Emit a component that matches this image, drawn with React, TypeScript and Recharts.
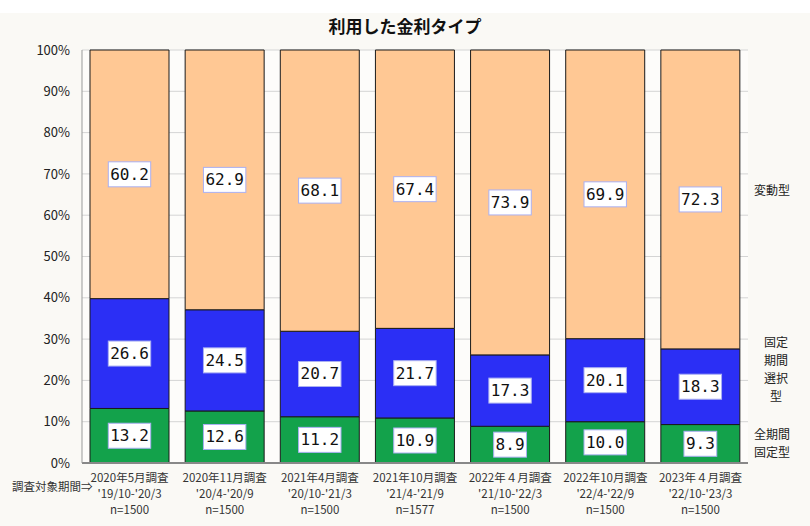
import { Bar, BarChart, CartesianGrid, LabelList, XAxis, YAxis } from 'recharts';

// survey rounds (x-axis, three lines each)
const surveys = [
  '2020年5月調査',
  '2020年11月調査',
  '2021年4月調査',
  '2021年10月調査',
  '2022年４月調査',
  '2022年10月調査',
  '2023年４月調査',
];
const periods = [
  "'19/10-'20/3",
  "'20/4-'20/9",
  "'20/10-'21/3",
  "'21/4-'21/9",
  "'21/10-'22/3",
  "'22/4-'22/9",
  "'22/10-'23/3",
];
const sampleSizes = [1500, 1500, 1500, 1577, 1500, 1500, 1500];

// shares (%) by rate type
const fullFixed = [13.2, 12.6, 11.2, 10.9, 8.9, 10.0, 9.3];
const periodFixed = [26.6, 24.5, 20.7, 21.7, 17.3, 20.1, 18.3];
const variable = [60.2, 62.9, 68.1, 67.4, 73.9, 69.9, 72.3];

const yTicks = [0, 0.1, 0.2, 0.3, 0.4, 0.5, 0.6, 0.7, 0.8, 0.9, 1];

const chartData = surveys.map((s, i) => ({
  survey: s,
  period: periods[i],
  n: sampleSizes[i],
  fullFixed: fullFixed[i],
  periodFixed: periodFixed[i],
  variable: variable[i],
}));

const FONT = '"Noto Sans CJK JP", "Noto Sans", sans-serif';

/**
 * White boxed value label in the middle of a segment.
 */
function ValueLabel(props: any) {
  const { x, y, width, height, value } = props;
  const text = Number(value).toFixed(1);
  const w = text.length * 9.6 + 4;
  const h = 25;
  const cx = x + width / 2;
  const cy = y + height / 2;
  return (
    <g>
      <rect x={cx - w / 2} y={cy - h / 2} width={w} height={h} fill="#ffffff" stroke="#aab0f2" strokeWidth={1} />
      <text
        x={cx}
        y={cy + 1}
        textAnchor="middle"
        dominantBaseline="middle"
        fontFamily='"DejaVu Sans Mono", monospace'
        fontSize={16}
        fill="#111"
      >
        {text}
      </text>
    </g>
  );
}

/**
 * Three-line category tick: survey / period / sample size.
 */
function SurveyTick(props: any) {
  const { x, y, payload, index } = props;
  const row = chartData[index] ?? chartData.find((d) => d.survey === payload.value);
  return (
    <g fontFamily={FONT} fontSize={11.5} fill="#333">
      <text x={x} y={y + 11} textAnchor="middle">{payload.value}</text>
      <text x={x} y={y + 27} textAnchor="middle">{row?.period}</text>
      <text x={x} y={y + 43} textAnchor="middle">n={row?.n}</text>
    </g>
  );
}

export default function App() {
  return (
    <div style={{ position: 'absolute', left: 0, top: 0, width: 810, height: 526, background: '#ffffff' }}>
      <div style={{ position: 'absolute', left: 0, top: 13, width: 810, height: 513, background: '#faf9f5' }} />
      <div
        style={{
          position: 'absolute',
          left: 0,
          top: 13,
          width: 810,
          textAlign: 'center',
          fontFamily: FONT,
          fontWeight: 700,
          fontSize: 17,
          color: '#111',
        }}
      >
        利用した金利タイプ
      </div>
      <div style={{ position: 'absolute', left: 0, top: 0 }}>
        <BarChart
          width={810}
          height={526}
          data={chartData}
          stackOffset="expand"
          margin={{ top: 50, right: 62, bottom: 13, left: 22 }}
          barCategoryGap={8}
        >
          <CartesianGrid horizontal vertical={false} stroke="#d4d4d4" fill="#fdfcfa" />
          <XAxis
            dataKey="survey"
            height={50}
            interval={0}
            tick={<SurveyTick />}
            tickLine={false}
            axisLine={{ stroke: '#888', strokeWidth: 2 }}
          />
          <YAxis
            width={60}
            domain={[0, 1]}
            ticks={yTicks}
            tickFormatter={(v: number) => `${Math.round(v * 100)}%`}
            tickLine={false}
            tickSize={0}
            tickMargin={12}
            axisLine={{ stroke: '#999' }}
            tick={{ fontFamily: FONT, fontSize: 13, fill: '#222' }}
          />
          <YAxis
            yAxisId="right"
            orientation="right"
            width={0}
            domain={[0, 1]}
            tick={false}
            tickLine={false}
            axisLine={{ stroke: '#999' }}
          />
          <Bar dataKey="fullFixed" stackId="a" fill="#13a24b" stroke="#1a1a1a" strokeWidth={1} isAnimationActive={false}>
            <LabelList dataKey="fullFixed" content={<ValueLabel />} />
          </Bar>
          <Bar dataKey="periodFixed" stackId="a" fill="#2b2ff5" stroke="#1a1a1a" strokeWidth={1} isAnimationActive={false}>
            <LabelList dataKey="periodFixed" content={<ValueLabel />} />
          </Bar>
          <Bar dataKey="variable" stackId="a" fill="#ffc894" stroke="#1a1a1a" strokeWidth={1} isAnimationActive={false}>
            <LabelList dataKey="variable" content={<ValueLabel />} />
          </Bar>
        </BarChart>
      </div>
      {/* right-side legend labels */}
      <div style={{ position: 'absolute', left: 754, top: 181, fontFamily: FONT, fontSize: 12, color: '#222' }}>変動型</div>
      <div
        style={{
          position: 'absolute',
          left: 754,
          top: 333,
          width: 44,
          textAlign: 'center',
          fontFamily: FONT,
          fontSize: 12,
          lineHeight: '18px',
          color: '#222',
        }}
      >
        固定
        <br />
        期間
        <br />
        選択
        <br />
        型
      </div>
      <div style={{ position: 'absolute', left: 754, top: 425, fontFamily: FONT, fontSize: 12, lineHeight: '18px', color: '#222' }}>
        全期間
        <br />
        固定型
      </div>
      <div style={{ position: 'absolute', left: 12, top: 478, fontFamily: FONT, fontSize: 11.5, color: '#333' }}>調査対象期間⇒</div>
    </div>
  );
}
